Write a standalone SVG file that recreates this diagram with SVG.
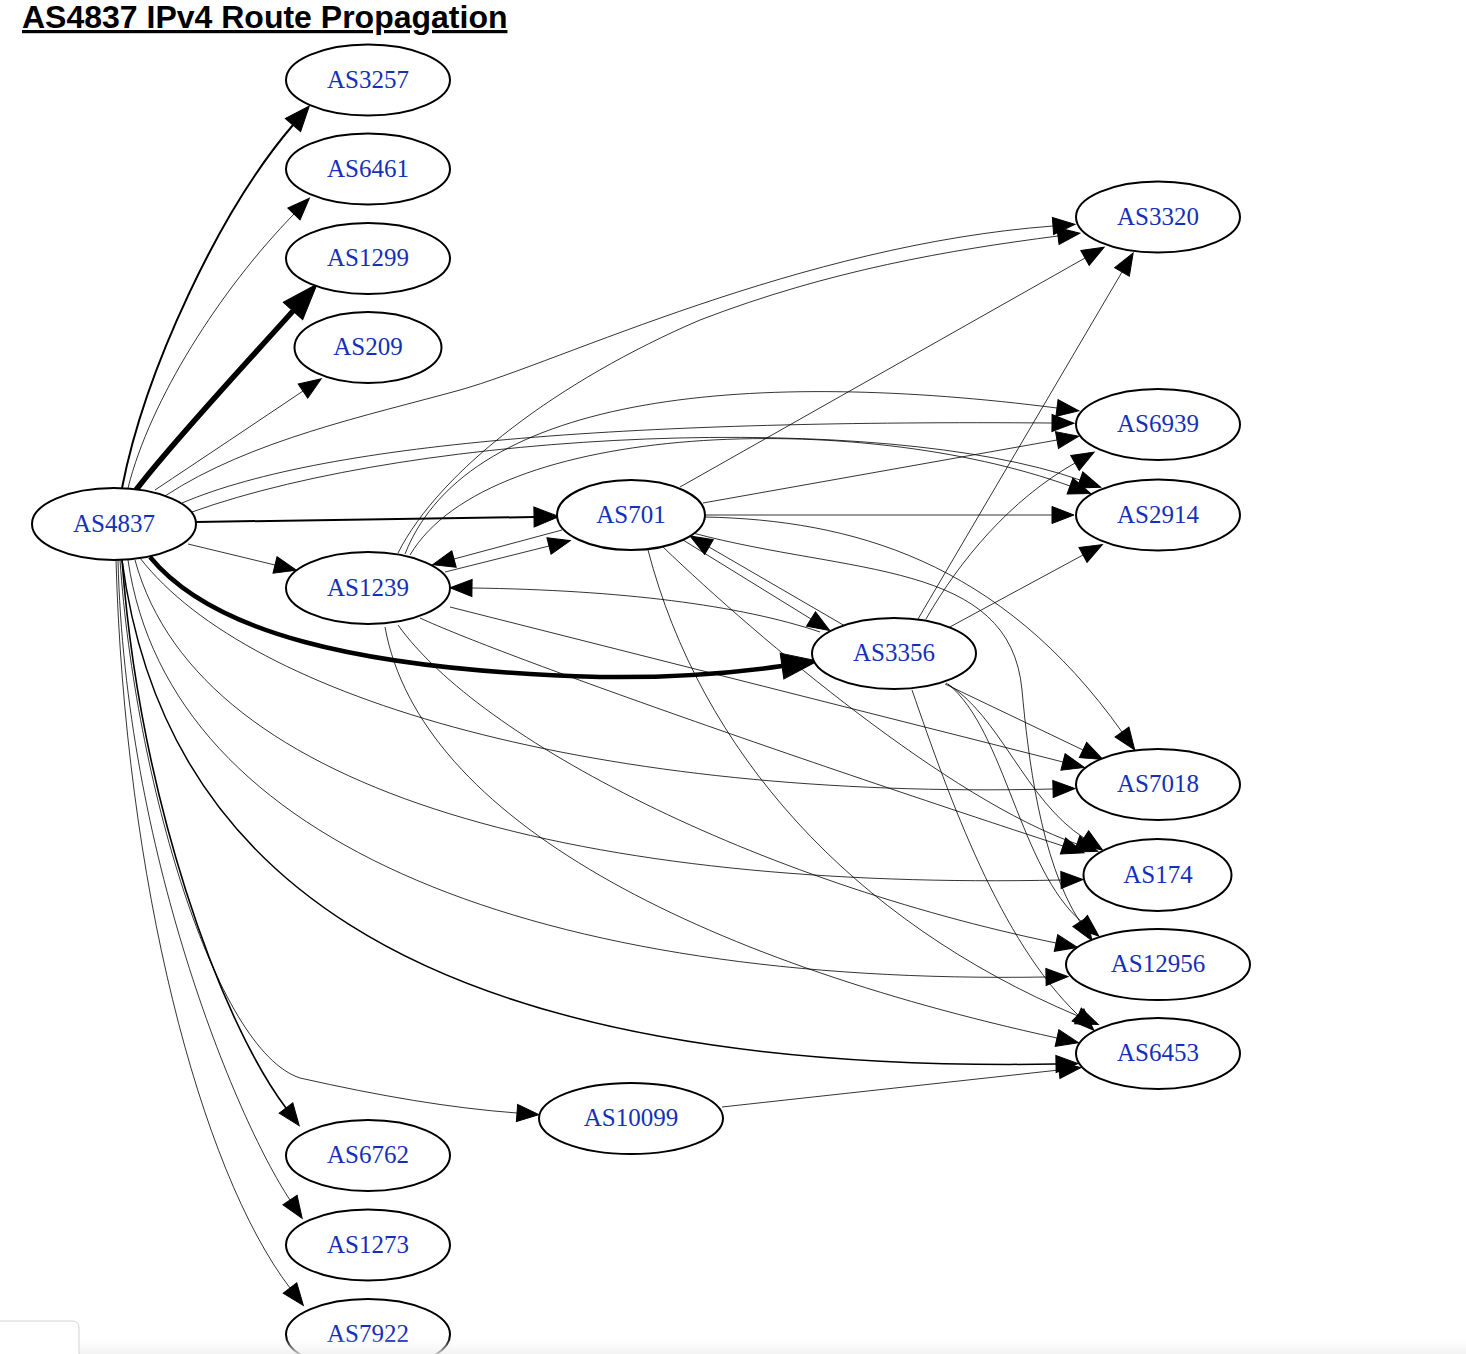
<svg xmlns="http://www.w3.org/2000/svg" width="1466" height="1354" viewBox="0 0 1466 1354">
<defs>
<style>
.e{fill:none;stroke:#000;stroke-width:0.8}
.m{fill:none;stroke:#000;stroke-width:2}
.k{fill:none;stroke:#000;stroke-width:5.5}
.k2{fill:none;stroke:#000;stroke-width:4.5}
.n ellipse{fill:#fff;stroke:#000;stroke-width:2}
.n text{font-family:"Liberation Serif","Times New Roman",serif;font-size:25px;fill:#1530b8;text-anchor:middle}
.ah{fill:#000;stroke:#000;stroke-width:1}
</style>
<marker id="at" markerUnits="userSpaceOnUse" viewBox="0 -10 24 20" markerWidth="24" markerHeight="20" refX="0" refY="0" orient="auto" overflow="visible"><path class="ah" d="M0,-8.5L22,0L0,8.5z"/></marker>
<marker id="am" markerUnits="userSpaceOnUse" viewBox="0 -11 27 22" markerWidth="27" markerHeight="22" refX="0" refY="0" orient="auto" overflow="visible"><path class="ah" d="M0,-10L25,0L0,10z"/></marker>
<marker id="ak" markerUnits="userSpaceOnUse" viewBox="0 -15 38 30" markerWidth="38" markerHeight="30" refX="0" refY="0" orient="auto" overflow="visible"><path class="ah" d="M0,-13L36,0L0,13z"/></marker>
<linearGradient id="sh" x1="0" y1="0" x2="0" y2="1"><stop offset="0" stop-color="#f4f4f4" stop-opacity="0"/><stop offset="1" stop-color="#f0f0f0" stop-opacity="0.8"/></linearGradient>
</defs>
<rect width="1466" height="1354" fill="#fff"/>
<text x="22" y="28" font-family="'Liberation Sans',Arial,sans-serif" font-size="32" font-weight="bold" text-decoration="underline" fill="#000">AS4837 IPv4 Route Propagation</text>

<g id="connectors">
<!-- AS4837 -->
<path class="m" marker-end="url(#am)" d="M122,488 C145,370 220,210 293,125"/>
<path class="e" marker-end="url(#at)" d="M128,488 C150,400 220,290 294,214"/>
<path class="k" marker-end="url(#ak)" d="M136,490 C170,445 240,370 293,311"/>
<path class="e" marker-end="url(#at)" d="M155,490 C200,460 260,420 303,391"/>
<path class="e" marker-end="url(#at)" d="M165,496 C250,440 370,415 460,390 C560,362 800,245 1053,226"/>
<path class="e" marker-end="url(#at)" d="M182,503 C330,440 650,420 1052,423"/>
<path class="e" marker-end="url(#at)" d="M192,512 C420,430 880,410 1080,480"/>
<path class="m" marker-end="url(#am)" d="M196,522 L534,517"/>
<path class="e" marker-end="url(#at)" d="M188,544 L275,565"/>
<path class="k2" marker-end="url(#ak)" d="M150,557 C210,630 350,670 600,677 C680,678 740,672 782,666"/>
<path class="e" marker-end="url(#at)" d="M140,558 C250,700 600,800 1053,789"/>
<path class="e" marker-end="url(#at)" d="M135,560 C200,800 600,890 1061,880"/>
<path class="e" marker-end="url(#at)" d="M128,560 C170,850 550,985 1046,977"/>
<path class="e" style="stroke-width:1.5" marker-end="url(#at)" d="M122,560 C160,850 380,1075 1056,1064"/>
<path class="e" marker-end="url(#at)" d="M120,560 C135,780 215,1050 300,1078 C380,1096 450,1108 517,1113"/>
<path class="e" style="stroke-width:1.6" marker-end="url(#at)" d="M122,560 C140,800 220,1020 286,1108"/>
<path class="e" marker-end="url(#at)" d="M118,560 C125,850 235,1117 290,1200"/>
<path class="e" marker-end="url(#at)" d="M116,560 C125,880 200,1170 290,1288"/>
<!-- AS1239 -->
<path class="e" marker-end="url(#at)" d="M445,572 L549,546"/>
<path class="e" marker-end="url(#at)" d="M398,553 C440,470 560,380 700,320 C830,270 950,250 1058,236"/>
<path class="e" marker-end="url(#at)" d="M405,554 C470,390 760,370 1057,408"/>
<path class="e" marker-end="url(#at)" d="M410,555 C490,420 860,410 1070,486"/>
<path class="e" marker-end="url(#at)" d="M450,607 L1063,762"/>
<path class="e" marker-end="url(#at)" d="M420,618 C500,655 800,760 1063,846"/>
<path class="e" marker-end="url(#at)" d="M398,625 C480,740 756,881 1056,943"/>
<path class="e" marker-end="url(#at)" d="M385,627 C420,820 700,960 1057,1038"/>
<!-- AS701 -->
<path class="e" marker-end="url(#at)" d="M562,530 L454,559"/>
<path class="e" marker-end="url(#at)" d="M680,487 L1085,258"/>
<path class="e" marker-end="url(#at)" d="M703,503 L1057,440"/>
<path class="e" marker-end="url(#at)" d="M705,515 L1052,515"/>
<path class="e" marker-end="url(#at)" d="M683,540 L811,619"/>
<path class="e" marker-end="url(#at)" d="M705,517 C850,520 1000,560 1122,732"/>
<path class="e" marker-end="url(#at)" d="M663,547 C760,640 950,800 1077,844"/>
<path class="e" marker-end="url(#at)" d="M693,533 C850,575 1010,560 1022,690 C1028,755 1040,860 1080,922"/>
<path class="e" marker-end="url(#at)" d="M648,550 C700,750 850,920 1078,1016"/>
<!-- AS3356 -->
<path class="e" marker-end="url(#at)" d="M820,632 C740,605 620,590 472,588"/>
<path class="e" marker-end="url(#at)" d="M845,626 L709,547"/>
<path class="e" marker-end="url(#at)" d="M918,619 L1122,272"/>
<path class="e" marker-end="url(#at)" d="M926,619 C960,560 1010,500 1075,463"/>
<path class="e" marker-end="url(#at)" d="M948,628 L1083,555"/>
<path class="e" marker-end="url(#at)" d="M945,684 L1083,750"/>
<path class="e" marker-end="url(#at)" d="M946,683 C1000,715 1025,800 1084,838"/>
<path class="e" marker-end="url(#at)" d="M948,684 C1005,730 1020,870 1082,922"/>
<path class="e" marker-end="url(#at)" d="M912,690 C950,800 1000,940 1078,1015"/>
<!-- AS10099 -->
<path class="e" marker-end="url(#at)" d="M722,1107 L1059,1070"/>
</g>

<g id="AS3257" class="n"><ellipse cx="368" cy="80" rx="82" ry="35.5"/><text x="368" y="88">AS3257</text></g>
<g id="AS6461" class="n"><ellipse cx="368" cy="169" rx="82" ry="35.5"/><text x="368" y="177">AS6461</text></g>
<g id="AS1299" class="n"><ellipse cx="368" cy="258.5" rx="82" ry="35.5"/><text x="368" y="266">AS1299</text></g>
<g id="AS209" class="n"><ellipse cx="368" cy="347.5" rx="73.5" ry="35.5"/><text x="368" y="355">AS209</text></g>
<g id="AS4837" class="n"><ellipse cx="114" cy="524" rx="82" ry="36"/><text x="114" y="532">AS4837</text></g>
<g id="AS1239" class="n"><ellipse cx="368" cy="588" rx="82" ry="36"/><text x="368" y="596">AS1239</text></g>
<g id="AS701" class="n"><ellipse cx="631" cy="515" rx="74" ry="35"/><text x="631" y="523">AS701</text></g>
<g id="AS3356" class="n"><ellipse cx="894" cy="653.5" rx="82" ry="35.5"/><text x="894" y="661">AS3356</text></g>
<g id="AS3320" class="n"><ellipse cx="1158" cy="217" rx="82" ry="35.5"/><text x="1158" y="225">AS3320</text></g>
<g id="AS6939" class="n"><ellipse cx="1158" cy="424.5" rx="82" ry="35.5"/><text x="1158" y="432">AS6939</text></g>
<g id="AS2914" class="n"><ellipse cx="1158" cy="515" rx="82" ry="35.5"/><text x="1158" y="523">AS2914</text></g>
<g id="AS7018" class="n"><ellipse cx="1158" cy="784.5" rx="82" ry="35.5"/><text x="1158" y="792">AS7018</text></g>
<g id="AS174" class="n"><ellipse cx="1157.5" cy="875" rx="74" ry="36"/><text x="1158" y="883">AS174</text></g>
<g id="AS12956" class="n"><ellipse cx="1158" cy="964.5" rx="92" ry="35.5"/><text x="1158" y="972">AS12956</text></g>
<g id="AS6453" class="n"><ellipse cx="1158" cy="1053.5" rx="82" ry="35.5"/><text x="1158" y="1061">AS6453</text></g>
<g id="AS10099" class="n"><ellipse cx="631" cy="1118.5" rx="92" ry="35.5"/><text x="631" y="1126">AS10099</text></g>
<g id="AS6762" class="n"><ellipse cx="368" cy="1155.5" rx="82" ry="35.5"/><text x="368" y="1163">AS6762</text></g>
<g id="AS1273" class="n"><ellipse cx="368" cy="1245" rx="82" ry="35.5"/><text x="368" y="1253">AS1273</text></g>
<g id="AS7922" class="n"><ellipse cx="368" cy="1334.5" rx="82" ry="35.5"/><text x="368" y="1342">AS7922</text></g>

<rect x="0" y="1338" width="1466" height="16" fill="url(#sh)"/>
<rect x="-6" y="1321" width="85" height="40" rx="6" fill="#fff" stroke="#d4d4d4" stroke-width="1"/>
</svg>
